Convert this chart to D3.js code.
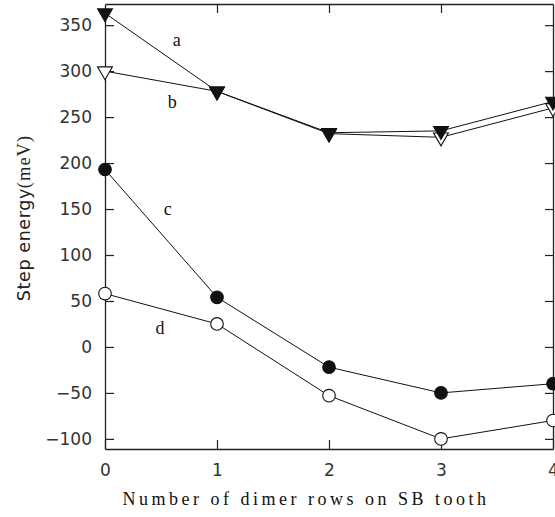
<!DOCTYPE html>
<html>
<head>
<meta charset="utf-8">
<script src="https://cdn.jsdelivr.net/npm/d3@7"></script>
<style>
  body { margin: 0; background: #fff; }
  .tick text { font-family: "DejaVu Sans", sans-serif; }
</style>
</head>
<body>
<script>
// Data
var rows = [0, 1, 2, 3, 4]
var seriesA = [363, 278, 233, 235, 267]
var seriesB = [300, 278, 232, 228, 260]
var seriesC = [193, 54, -22, -50, -40]
var seriesD = [58, 25, -53, -100, -80]
var yTicks = [-100, -50, 0, 50, 100, 150, 200, 250, 300, 350]
var seriesNames = ["a", "b", "c", "d"]

var width = 555, height = 517
var margin = {top: 4, right: 2, bottom: 68, left: 105}

var svg = d3.select("body").append("svg")
            .attr("width", width)
            .attr("height", height)

var x = d3.scaleLinear().domain([0, 4]).range([margin.left, width - margin.right])
var y = d3.scaleLinear().domain([-111, 373]).range([height - margin.bottom, margin.top])

// Axes (inward ticks on every side)
var left = svg.append("g").attr("transform", "translate(" + x(0) + ",0)")
              .call(d3.axisLeft(y).tickValues(yTicks).tickSizeInner(-9).tickSizeOuter(0).tickPadding(13)
                      .tickFormat(function(d){ return d < 0 ? "\u2212" + Math.abs(d) : d }))
var right = svg.append("g").attr("transform", "translate(" + x(4) + ",0)")
               .call(d3.axisRight(y).tickValues(yTicks).tickSizeInner(-8).tickSizeOuter(0).tickFormat(""))
var bottom = svg.append("g").attr("transform", "translate(0," + y.range()[0] + ")")
                .call(d3.axisBottom(x).tickValues(rows).tickSizeInner(-9).tickSizeOuter(0).tickPadding(15)
                        .tickFormat(d3.format("d")))
var top = svg.append("g").attr("transform", "translate(0," + y.range()[1] + ")")
             .call(d3.axisTop(x).tickValues([1, 2, 3]).tickSizeInner(-9).tickSizeOuter(0).tickFormat(""))

svg.selectAll(".domain").attr("stroke", "#222").attr("stroke-width", 1.3)
svg.selectAll(".tick line").attr("stroke", "#222").attr("stroke-width", 1.2)
svg.selectAll(".tick text").attr("font-size", 17).attr("fill", "#333")

// Lines
var line = d3.line().x(function(d, i){ return x(rows[i]) }).y(function(d){ return y(d) })
var allSeries = [seriesA, seriesB, seriesC, seriesD]
svg.selectAll(".series")
   .data(allSeries)
   .enter().append("path")
   .attr("class", "series")
   .attr("d", line)
   .attr("fill", "none")
   .attr("stroke", "#111")
   .attr("stroke-width", 1)

// Markers
var tri = d3.symbol().type(d3.symbolTriangle).size(95)
function drawTriangles(values, fill) {
  svg.selectAll(null)
     .data(values)
     .enter().append("path")
     .attr("d", tri)
     .attr("transform", function(d, i){ return "translate(" + x(rows[i]) + "," + y(d) + ") rotate(180)" })
     .attr("fill", fill)
     .attr("stroke", "#111")
     .attr("stroke-width", 1.1)
}
function drawCircles(values, fill) {
  svg.selectAll(null)
     .data(values)
     .enter().append("circle")
     .attr("cx", function(d, i){ return x(rows[i]) })
     .attr("cy", function(d){ return y(d) })
     .attr("r", 6.3)
     .attr("fill", fill)
     .attr("stroke", "#111")
     .attr("stroke-width", 1.1)
}
drawTriangles(seriesB, "#fff")
drawTriangles(seriesA, "#111")
drawCircles(seriesD, "#fff")
drawCircles(seriesC, "#111")

// Curve labels (position in data units)
var labelPos = [[0.64, 327], [0.6, 260], [0.56, 143], [0.49, 14]]
svg.selectAll(".lbl")
   .data(seriesNames)
   .enter().append("text")
   .attr("class", "lbl")
   .attr("x", function(d, i){ return x(labelPos[i][0]) })
   .attr("y", function(d, i){ return y(labelPos[i][1]) })
   .attr("text-anchor", "middle")
   .attr("font-family", "Liberation Serif, Times New Roman, serif")
   .attr("font-size", 18)
   .attr("fill", "#111")
   .text(function(d){ return d })

// Axis titles
svg.append("text")
   .attr("x", 306)
   .attr("y", 505)
   .attr("text-anchor", "middle")
   .attr("font-family", "Liberation Serif, Times New Roman, serif")
   .attr("font-size", 18)
   .attr("letter-spacing", 3.5)
   .attr("fill", "#111")
   .text("Number of dimer rows on SB tooth")

var yt = svg.append("text")
   .attr("transform", "translate(30,218) rotate(-90)")
   .attr("text-anchor", "middle")
   .attr("font-size", 17.5)
   .attr("fill", "#222")
yt.append("tspan").attr("font-family", "DejaVu Sans, sans-serif").attr("letter-spacing", 0.6).text("Step energy")
yt.append("tspan").attr("font-family", "Liberation Serif, Times New Roman, serif").attr("font-size", 18.5).attr("letter-spacing", 1).text("(meV)")
</script>
</body>
</html>
